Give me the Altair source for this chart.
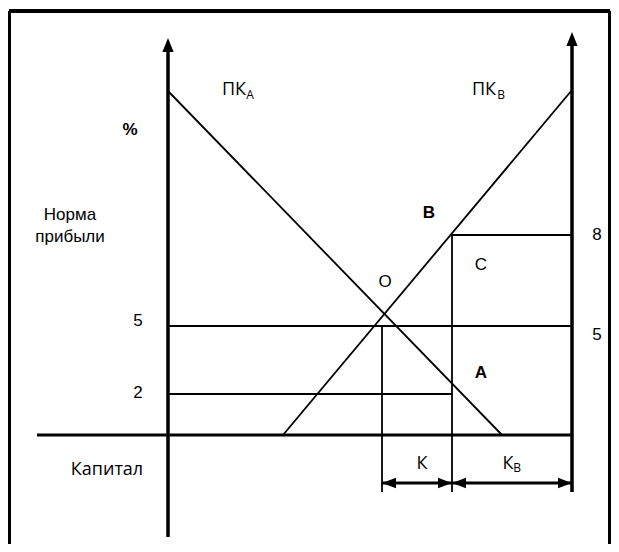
import altair as alt
import pandas as pd

# Diagram coordinates: origin at the crossing of the left axis and the capital axis
# Line segments (x1, y1, x2, y2, stroke width)
seg_name = ["border_top", "border_left", "border_right",
            "axis_left", "axis_right", "axis_capital",
            "PK_A", "PK_B", "level_5", "level_2", "level_8",
            "drop_K", "drop_KB", "dim_K", "dim_KB"]
seg_x1 = [-159, -159, 442, 0, 404, -131, 0, 115, 0, 0, 284, 214, 284, 214, 284]
seg_y1 = [424, 424, 424, -102, -57, 0, 344, 0, 109, 41, 200, 109, 200, -48, -48]
seg_x2 = [442, -159, 442, 0, 404, 404, 334, 404, 404, 284, 404, 214, 284, 284, 404]
seg_y2 = [424, -109, -109, 386, 392, 0, 0, 345, 109, 41, 200, -57, -57, -48, -48]
seg_w = [4, 4, 4, 3.5, 3.5, 3, 1.8, 1.8, 1.8, 1.8, 1.8, 1.8, 1.8, 3, 3]

# Arrowheads
UP = "M-0.8,1 L0,-1 L0.8,1 Z"
LEFT = "M-1,0 L1,-0.75 L1,0.75 Z"
RIGHT = "M1,0 L-1,-0.75 L-1,0.75 Z"
head_x = [0, 404, 221, 277, 291, 397]
head_y = [390, 396, -48, -48, -48, -48]
head_shape = [UP, UP, LEFT, RIGHT, LEFT, RIGHT]
head_size = [196, 196, 196, 196, 196, 196]

# Labels in an Arial-like face
lab_text = ["Норма", "прибыли", "5", "2", "O", "C", "8", "5"]
lab_x = [-98, -98, -30, -30, 217, 313, 429, 429]
lab_y = [220, 198, 114, 42.5, 153, 170, 200, 100]
lab_size = [17, 17, 17, 17, 17, 17, 17, 17]

# Bold labels
bold_text = ["%", "B", "A"]
bold_x = [-38, 261, 313]
bold_y = [305, 222, 62]
bold_size = [17, 17, 17]

# Labels in a humanist face (with subscripts)
hum_text = ["ПК", "ПК", "Капитал", "К", "К"]
hum_x = [66, 316, -61, 254, 340]
hum_y = [345, 345, -35, -29, -29]
hum_size = [18, 18, 18, 18, 18]

sub_text = ["A", "B", "B"]
sub_x = [82, 333, 349]
sub_y = [340, 340, -33]
sub_size = [12, 12, 12]

X_DOMAIN = [-160, 443]
Y_DOMAIN = [-109, 427]

xs = alt.Scale(domain=X_DOMAIN, nice=False, zero=False)
ys = alt.Scale(domain=Y_DOMAIN, nice=False, zero=False)

segs = pd.DataFrame({"name": seg_name, "x1": seg_x1, "y1": seg_y1,
                     "x2": seg_x2, "y2": seg_y2, "w": seg_w})
heads = pd.DataFrame({"x": head_x, "y": head_y, "shape": head_shape, "size": head_size})


def text_df(t, x, y, s):
    return pd.DataFrame({"t": t, "x": x, "y": y, "s": s})


lines = alt.Chart(segs).mark_rule(color="black", strokeCap="butt").encode(
    x=alt.X("x1:Q", scale=xs, axis=None),
    y=alt.Y("y1:Q", scale=ys, axis=None),
    x2="x2:Q",
    y2="y2:Q",
    strokeWidth=alt.StrokeWidth("w:Q", scale=None),
)

arrows = alt.Chart(heads).mark_point(filled=True, color="black", opacity=1, strokeWidth=0).encode(
    x=alt.X("x:Q", scale=xs, axis=None),
    y=alt.Y("y:Q", scale=ys, axis=None),
    shape=alt.Shape("shape:N", scale=None),
    size=alt.Size("size:Q", scale=None),
)


def text_layer(df, font, weight="normal"):
    return alt.Chart(df).mark_text(font=font, fontWeight=weight, color="black",
                                   align="center", baseline="middle").encode(
        x=alt.X("x:Q", scale=xs, axis=None),
        y=alt.Y("y:Q", scale=ys, axis=None),
        text="t:N",
        size=alt.Size("s:Q", scale=None),
    )


labels = text_layer(text_df(lab_text, lab_x, lab_y, lab_size), "Liberation Sans")
bolds = text_layer(text_df(bold_text, bold_x, bold_y, bold_size), "Liberation Sans", "bold")
hums = text_layer(text_df(hum_text, hum_x, hum_y, hum_size), "Open Sans")
subs = text_layer(text_df(sub_text, sub_x, sub_y, sub_size), "Open Sans")

chart = alt.layer(lines, arrows, labels, bolds, hums, subs).properties(
    width=603, height=536, padding=0, autosize="none", background="white"
).configure_view(stroke=None)

chart.save("out.html", embed_options={"renderer": "svg", "actions": False})
